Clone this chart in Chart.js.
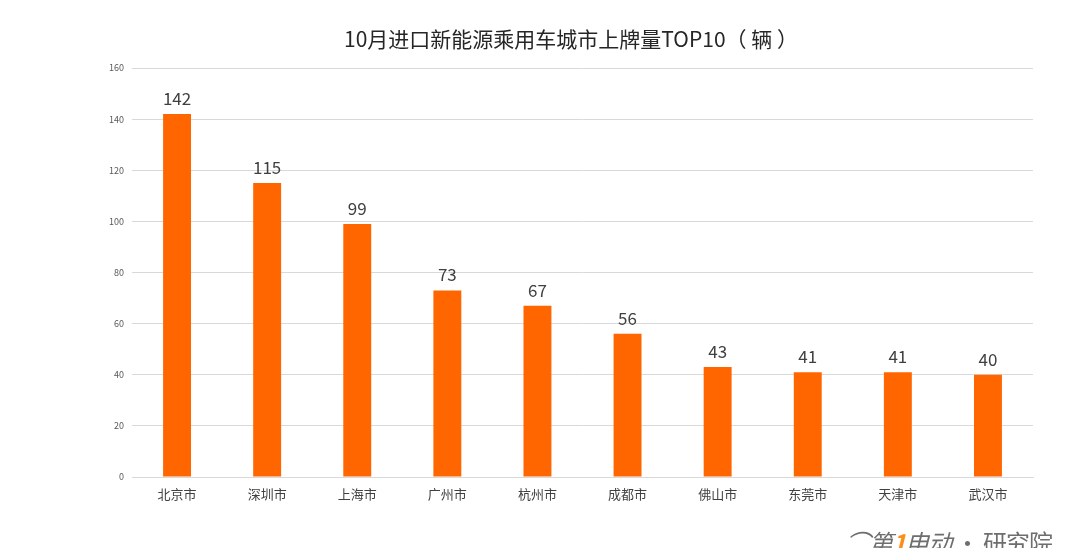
<!DOCTYPE html>
<html>
<head>
<meta charset="utf-8">
<script src="https://cdn.jsdelivr.net/npm/chart.js@4"></script>
<style>
  html, body { margin: 0; padding: 0; background: #fff; }
  #wrap { position: relative; width: 1080px; height: 548px; overflow: hidden; }
  #mark { position: absolute; left: 846px; top: 524px; font: 24px "Noto Sans CJK SC", sans-serif; color: #6e6e6e; white-space: nowrap; letter-spacing: -1px; }
  #mark b { color: #ff8c1a; font-style: italic; }
  #mark i { font-style: italic; }
</style>
</head>
<body>
<div id="wrap">
  <canvas id="myChart" width="1080" height="548"></canvas>
  <div id="mark"><i>⌒第<b>1</b>电动</i> · 研究院</div>
</div>
<script>
const chartTitle = '10月进口新能源乘用车城市上牌量TOP10（ 辆 ）';
const cities = ['北京市', '深圳市', '上海市', '广州市', '杭州市', '成都市', '佛山市', '东莞市', '天津市', '武汉市'];
const counts = [142, 115, 99, 73, 67, 56, 43, 41, 41, 40];
const yTicks = [0, 20, 40, 60, 80, 100, 120, 140, 160];

const cjk = '"Noto Sans CJK SC", "Noto Sans", sans-serif';

// values above bars + title
const labelPlugin = {
  id: 'labels',
  afterDatasetsDraw(chart) {
    const c = chart.ctx;
    const meta = chart.getDatasetMeta(0);
    c.save();
    c.fillStyle = '#404040';
    c.font = '17px ' + cjk;
    c.textAlign = 'center';
    c.textBaseline = 'bottom';
    meta.data.forEach((bar, i) => {
      c.fillText(counts[i], bar.x, bar.y - 7);
    });
    c.font = '21px ' + cjk;
    c.fillStyle = '#262626';
    c.textBaseline = 'middle';
    c.fillText(chartTitle, 571, 39);
    c.restore();
  }
};

const ctx = document.getElementById('myChart');
new Chart(ctx, {
  type: 'bar',
  data: {
    labels: cities,
    datasets: [{
      data: counts,
      backgroundColor: '#ff6600',
      categoryPercentage: 1,
      barPercentage: 0.31
    }]
  },
  options: {
    responsive: false,
    animation: false,
    layout: { padding: { top: 68, right: 47, left: 0, bottom: 0 } },
    plugins: { legend: { display: false }, tooltip: { enabled: false } },
    scales: {
      x: {
        afterFit(s) { s.height = 71; },
        grid: { display: false, drawTicks: false },
        border: { color: '#d9d9d9' },
        ticks: { color: '#404040', font: { size: 13, family: cjk }, padding: 9 }
      },
      y: {
        min: 0,
        max: 160,
        afterFit(s) { s.width = 132; },
        afterBuildTicks(s) { s.ticks = yTicks.map(v => ({ value: v })); },
        grid: { color: '#d9d9d9', drawTicks: false },
        border: { display: false },
        ticks: { color: '#595959', font: { size: 9, family: cjk }, padding: 8 }
      }
    }
  },
  plugins: [labelPlugin]
});
</script>
</body>
</html>
